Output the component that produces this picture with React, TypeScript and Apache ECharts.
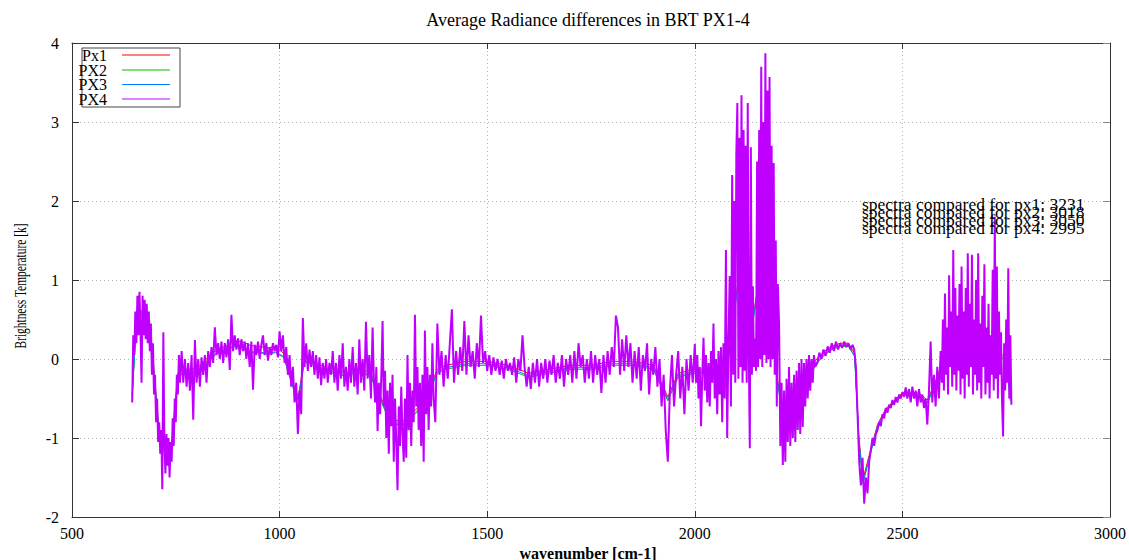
import React, { useEffect, useRef } from "react";
import * as echarts from "echarts";

const FONT = '"Liberation Serif", "DejaVu Serif", serif';
const TITLE = "Average Radiance differences in BRT PX1-4";
const X_NAME = "wavenumber [cm-1]";
const Y_NAME = "Brightness Temperature [k]";
const SERIES_NAMES = ["Px1", "PX2", "PX3", "PX4"];
const SERIES_COLORS = ["#ff0000", "#00c000", "#0080ff", "#c000ff"];
const SPECTRA_COUNTS = [3231, 3018, 3050, 2995];
const X_RANGE = [500, 3000];
const X_STEP = 500;
const Y_RANGE = [-2, 4];
const Y_STEP = 1;

// PX4 (dense spectrum) in segments: [start wavenumber, spacing, values]
const PX4_645_760 = [-0.55, 0.3, 0.05, 0.6, 0.2, 0.8, 0.3, 0.85, 0.35, -0.3, 0.8, 0.3, 0.75, 0.25, 0.7, 0.2, 0.6, 0.1, 0.45, -0.2, 0.2, -0.45, -0.2, -0.8, -0.5, -1.05, -0.8, -1.2, -0.9, -1.65, 0.34, -1.05, -1.45, -0.95, -1.35, -1.0, -1.5, -1.05, -1.3, -0.75, -1.1, -0.5, -0.8, -0.2, -0.45, 0.05, -0.3];
const PX4_764_1000 = [0.1, -0.3, 0.0, -0.35, -0.05, -0.4, 0.05, -0.77, 0.24, -0.3, 0.0, -0.35, 0.02, -0.2, 0.05, -0.3, 0.1, -0.1, 0.15, -0.05, 0.4, 0.05, 0.2, 0.0, 0.22, -0.05, 0.2, 0.02, 0.25, -0.14, 0.56, 0.1, 0.3, 0.12, 0.26, 0.05, 0.25, 0.1, 0.22, 0.0, 0.2, -0.1, 0.22, -0.39, 0.18, 0.05, 0.22, 0.0, 0.18, 0.3, 0.05, 0.2, -0.02, 0.15, 0.05, 0.2, 0.1, 0.18, 0.02, 0.35];
const PX4_1004_1224 = [0.1, 0.3, -0.05, 0.15, -0.2, 0.05, -0.35, -0.1, -0.55, -0.3, -0.95, -0.4, -0.7, 0.52, -0.1, 0.2, -0.15, 0.12, -0.1, 0.1, -0.2, 0.05, -0.25, 0.02, -0.33, -0.05, -0.25, 0.0, -0.3, -0.05, -0.2, 0.1, -0.3, -0.05, -0.4, 0.05, -0.25, 0.2, -0.35, -0.1, -0.4, 0.0, -0.3, 0.15, -0.35, -0.05, -0.45, 0.25, -0.3, 0.0, -0.4, 0.47, -0.25, 0.05, -0.5, 0.4];
const PX4_1227_1371 = [-0.25, -0.55, -0.1, -0.91, -0.3, -0.7, -0.2, 0.48, -0.6, -0.15, -1.0, -0.4, -1.2, -0.3, -0.85, -0.2, -1.3, -0.5, -1.05, -1.66, -0.6, -1.1, -0.35, -0.95, -1.3, -0.5, -1.25, 0.05, -0.9, -0.3, -1.1, -0.4, -0.8, 0.56, -0.6, -0.1, -0.9, -0.3, -1.1, -0.2, -1.3, 0.36, -0.7, -0.1, -0.9, -0.2, -0.6, 0.2, -0.5];
const PX4_1375_2000 = [-0.8, 0.45, -0.2, 0.1, -0.35, 0.05, -0.25, 0.2, 0.63, -0.3, 0.1, -0.2, 0.15, -0.15, 0.48, -0.2, 0.3, -0.1, 0.1, -0.25, 0.2, -0.1, 0.55, -0.05, 0.1, -0.15, 0.05, -0.2, 0.02, -0.15, 0.0, -0.2, -0.02, -0.25, 0.0, -0.15, -0.05, -0.2, 0.02, -0.3, 0.0, -0.15, 0.3, -0.1, -0.35, -0.1, -0.38, -0.05, -0.3, 0.0, -0.35, -0.05, -0.25, 0.0, -0.3, -0.02, -0.2, 0.05, -0.3, -0.05, -0.25, 0.05, -0.35, 0.0, -0.2, 0.05, -0.3, 0.1, -0.25, 0.2, -0.1, 0.05, -0.3, 0.0, -0.25, 0.1, -0.3, 0.05, -0.2, 0.0, -0.43, 0.05, -0.3, 0.1, -0.2, 0.15, -0.1, 0.55, 0.4, -0.2, 0.25, -0.15, 0.3, -0.1, 0.2, -0.3, 0.1, -0.25, 0.15, -0.4, 0.05, -0.15, 0.2, -0.45, 0.0, -0.2, 0.15, -0.35, 0.0, -0.6, -0.2, -0.9, -1.3, -0.4, 0.05, -0.6, -0.2, 0.1, -0.5, -0.1, -0.7, 0.0, -0.4, 0.05, -0.3, 0.19];
const PX4_2003_2090 = [-0.3, 0.05, -0.5, -0.1, -0.85, -0.2, 0.27, -0.4, 0.05, -0.55, -0.05, -0.6, 0.1, -0.3, 0.45, -0.5, 0.0, -0.7, 0.1, -0.45, 0.15, -0.8, 0.2, -0.5, 1.38, -1.0, 0.2, 1.05, -0.6, 2.33];
const PX4_2092_2200 = [-0.2, 2.0, -0.3, 2.6, 3.24, -0.25, 2.8, -0.1, 3.34, -0.3, 2.9, -0.15, 2.7, -0.3, 3.24, 0.1, -1.13, 2.68, -0.2, 0.92, -0.1, 0.26, -0.15, 2.5, -0.1, 2.9, 0.0, 3.7, -0.1, 3.0, 0.05, 3.87, -0.05, 3.4, 0.0, 3.57, -0.1, 2.7, 0.0, 2.48, -0.2, 1.5, -0.6, 0.95];
const PX4_2203_2290 = [0.45, -1.1, -0.3, -1.34, -0.4, -1.3, -0.25, -1.05, -0.1, -1.1, -0.3, -1.0, -0.2, -1.05, -0.15, -0.9, -0.05, -0.95, 0.0, -0.86, -0.05, -0.6, 0.0, -0.5, 0.05, -0.4, 0.0, -0.3, 0.05, -0.1];
const PX4_2295_2380 = [-0.05, 0.08, 0.0, 0.12, 0.04, 0.16, 0.08, 0.2, 0.1, 0.22, 0.12, 0.2, 0.14, 0.22, 0.15, 0.2, 0.12, 0.18];
const PX4_2384_2592 = [0.12, -0.1, -0.7, -1.3, -1.6, -1.25, -1.83, -1.5, -1.7, -1.3, -1.15, -1.0, -1.1, -0.95, -0.9, -0.8, -0.85, -0.7, -0.75, -0.62, -0.68, -0.58, -0.62, -0.52, -0.58, -0.48, -0.55, -0.45, -0.5, -0.42, -0.48, -0.36, -0.5, -0.38, -0.55, -0.35, -0.5, -0.4, -0.6, -0.38, -0.55, -0.45, -0.62, -0.5, -0.83, -0.4, 0.22, -0.55, -0.2, -0.6, -0.1, -0.5, 0.1];
const PX4_2595_2762 = [-0.3, 0.5, -0.4, 0.83, -0.2, 0.4, -0.45, 1.06, -0.1, 0.6, -0.35, 1.38, -0.2, 0.9, -0.4, 0.55, -0.15, 0.95, -0.45, 1.17, -0.25, 0.6, -0.5, 0.9, -0.2, 1.34, -0.35, 0.7, -0.1, 1.32, -0.45, 0.5, -0.2, 1.0, -0.4, 1.34, -0.3, 0.45, -0.5, 0.8, -0.1, 1.2, -0.45, 0.4, -0.3, 0.7, -0.5, 0.3, -0.2, 1.13, -0.4, 1.8, -0.25, 1.17, -0.5, 0.6, -0.2, 0.34, -0.55, -0.98, 0.2, -0.4, 0.5, -0.3, 1.15, -0.5, 0.3, -0.58];

const PX4_SEGMENTS: [number, number, number[]][] = [
  [645, 2.5, PX4_645_760],
  [764, 4, PX4_764_1000],
  [1004, 4, PX4_1004_1224],
  [1227, 3, PX4_1227_1371],
  [1375, 5, PX4_1375_2000],
  [2003, 3, PX4_2003_2090],
  [2092.5, 2.5, PX4_2092_2200],
  [2203, 3, PX4_2203_2290],
  [2295, 5, PX4_2295_2380],
  [2384, 4, PX4_2384_2592],
  [2595, 2.5, PX4_2595_2762],
];

// PX1-PX3 lie mostly beneath PX4; read on a coarser wavenumber grid
const COARSE_X = [645, 655, 665, 680, 695, 710, 725, 740, 755, 770, 790, 810, 830, 850, 870, 890, 910, 930, 950, 970, 990, 1010, 1030, 1045, 1060, 1080, 1100, 1120, 1140, 1160, 1180, 1200, 1220, 1240, 1260, 1280, 1300, 1320, 1340, 1360, 1380, 1400, 1450, 1500, 1550, 1600, 1650, 1700, 1750, 1800, 1850, 1900, 1935, 1960, 2000, 2040, 2080, 2110, 2140, 2170, 2200, 2215, 2240, 2265, 2290, 2310, 2330, 2350, 2370, 2385, 2395, 2405, 2420, 2440, 2460, 2480, 2500, 2520, 2540, 2560, 2580, 2600, 2630, 2660, 2690, 2720, 2750, 2760];
const PX1_Y = [-0.45, 0.5, 0.62, 0.46, 0.02, -0.93, -1.12, -1.08, -0.18, -0.13, -0.13, -0.08, 0.04, 0.12, 0.16, 0.23, 0.22, 0.17, 0.16, 0.14, 0.16, 0.07, -0.28, -0.48, 0.02, -0.03, -0.08, -0.13, -0.13, -0.18, -0.13, -0.13, -0.18, -0.43, -0.68, -0.78, -0.78, -0.68, -0.58, -0.38, -0.13, -0.08, -0.03, -0.03, -0.08, -0.18, -0.13, -0.08, -0.08, -0.03, -0.03, -0.08, -0.48, -0.18, -0.13, -0.13, 0.02, 1.22, 0.52, 1.52, -0.28, -0.78, -0.58, -0.33, -0.02, 0.09, 0.16, 0.2, 0.2, 0.07, -0.97, -1.52, -1.22, -0.83, -0.63, -0.53, -0.43, -0.43, -0.43, -0.52, -0.28, 0.02, 0.12, 0.12, 0.07, 0.12, 0.02, -0.47];
const PX2_Y = [-0.48, 0.46, 0.57, 0.42, -0.03, -0.98, -1.18, -1.13, -0.23, -0.18, -0.18, -0.13, -0.02, 0.07, 0.09, 0.16, 0.14, 0.08, 0.08, 0.06, 0.08, 0.02, -0.33, -0.53, -0.03, -0.08, -0.13, -0.18, -0.18, -0.23, -0.18, -0.18, -0.23, -0.48, -0.73, -0.83, -0.83, -0.73, -0.63, -0.43, -0.18, -0.13, -0.08, -0.08, -0.13, -0.23, -0.18, -0.13, -0.13, -0.08, -0.08, -0.13, -0.53, -0.23, -0.18, -0.18, -0.03, 1.17, 0.47, 1.47, -0.33, -0.83, -0.63, -0.38, -0.08, 0.04, 0.12, 0.16, 0.16, 0.03, -1.03, -1.58, -1.26, -0.86, -0.66, -0.56, -0.46, -0.46, -0.46, -0.56, -0.33, -0.03, 0.07, 0.07, 0.02, 0.07, -0.03, -0.53];
const PX3_Y = [-0.47, 0.48, 0.59, 0.44, -0.02, -0.97, -1.16, -1.11, -0.21, -0.16, -0.16, -0.11, 0.0, 0.08, 0.1, 0.17, 0.15, 0.09, 0.09, 0.07, 0.09, 0.03, -0.31, -0.51, -0.02, -0.06, -0.11, -0.16, -0.16, -0.21, -0.16, -0.16, -0.21, -0.46, -0.71, -0.81, -0.81, -0.71, -0.61, -0.41, -0.16, -0.11, -0.06, -0.06, -0.11, -0.21, -0.16, -0.11, -0.11, -0.06, -0.06, -0.11, -0.51, -0.21, -0.16, -0.16, -0.01, 1.19, 0.49, 1.49, -0.31, -0.81, -0.61, -0.36, -0.06, 0.05, 0.13, 0.17, 0.17, 0.04, -1.01, -1.56, -1.25, -0.85, -0.65, -0.55, -0.45, -0.45, -0.45, -0.55, -0.31, -0.01, 0.09, 0.09, 0.04, 0.09, -0.01, -0.51];

function fromSegments(segs: [number, number, number[]][]) {
  const out: number[][] = [];
  for (const [start, step, ys] of segs) {
    ys.forEach((y, i) => out.push([start + i * step, y]));
  }
  return out;
}
function zipXY(xs: number[], ys: number[]) {
  return xs.map((x, i) => [x, ys[i]]);
}

export default function App() {
  const ref = useRef<HTMLDivElement>(null);
  useEffect(() => {
    document.body.style.margin = "0";
    if (!ref.current) return;
    const chart = echarts.init(ref.current, null, { renderer: "svg" });
    const seriesData = [
      zipXY(COARSE_X, PX1_Y),
      zipXY(COARSE_X, PX2_Y),
      zipXY(COARSE_X, PX3_Y),
      fromSegments(PX4_SEGMENTS),
    ];
    const seriesWidths = [1, 1, 1, 2];
    const axisLineStyle = { color: "#333", width: 1 };
    const baseX = { type: "value", min: X_RANGE[0], max: X_RANGE[1], interval: X_STEP };
    const baseY = { type: "value", min: Y_RANGE[0], max: Y_RANGE[1], interval: Y_STEP };
    const labelFmt = (v: number) => String(v);
    const legendY = [55, 70, 84.5, 99];
    const centerText = (extra: any) => ({
      align: "center",
      verticalAlign: "middle",
      textAlign: "center",
      textVerticalAlign: "middle",
      fontFamily: FONT,
      fill: "#000",
      ...extra,
    });
    const graphic: any[] = [
      { type: "text", x: 588, y: 20, z: 100, style: centerText({ text: TITLE, fontSize: 18 }) },
      {
        type: "text",
        x: 588,
        y: 553,
        z: 100,
        style: centerText({ text: X_NAME, fontSize: 16, fontWeight: "bold" }),
      },
      {
        type: "text",
        x: 20,
        y: 286,
        rotation: Math.PI / 2,
        scaleX: 0.76,
        scaleY: 1.1,
        z: 100,
        style: centerText({ text: Y_NAME, fontSize: 15 }),
      },
      {
        type: "rect",
        z: 100,
        shape: { x: 82, y: 48, width: 98, height: 59 },
        style: { fill: "none", stroke: "#444", lineWidth: 1 },
      },
    ];
    SERIES_NAMES.forEach((name, i) => {
      graphic.push({
        type: "text",
        x: 107,
        y: legendY[i],
        z: 101,
        style: {
          text: name,
          align: "right",
          verticalAlign: "middle",
          textAlign: "right",
          textVerticalAlign: "middle",
          fontSize: 16,
          fontFamily: FONT,
          fill: "#000",
        },
      });
      graphic.push({
        type: "line",
        z: 101,
        shape: { x1: 122, y1: legendY[i], x2: 170, y2: legendY[i] },
        style: { stroke: SERIES_COLORS[i], lineWidth: 1 },
      });
      graphic.push({
        type: "text",
        x: 862,
        y: 204 + i * 8,
        z: 100,
        style: {
          text: `spectra compared for px${i + 1}: ${SPECTRA_COUNTS[i]}`,
          align: "left",
          verticalAlign: "middle",
          textAlign: "left",
          textVerticalAlign: "middle",
          fontSize: 17.5,
          fontFamily: FONT,
          fill: "#000",
        },
      });
    });

    chart.setOption({
      animation: false,
      backgroundColor: "#ffffff",
      grid: { left: 72, right: 19, top: 43, bottom: 43 },
      xAxis: [
        {
          ...baseX,
          position: "bottom",
          axisLine: { show: true, onZero: false, lineStyle: axisLineStyle },
          axisTick: { show: true, inside: true, length: 6, lineStyle: axisLineStyle },
          axisLabel: { color: "#000", fontSize: 16, fontFamily: FONT, margin: 8, formatter: labelFmt },
          splitLine: { show: true, lineStyle: { color: "#b0b0b0", width: 1, type: [1, 3] } },
        },
        {
          ...baseX,
          position: "top",
          axisLine: { show: true, onZero: false, lineStyle: axisLineStyle },
          axisTick: { show: true, inside: true, length: 6, lineStyle: axisLineStyle },
          axisLabel: { show: false },
          splitLine: { show: false },
        },
      ],
      yAxis: [
        {
          ...baseY,
          position: "left",
          axisLine: { show: true, onZero: false, lineStyle: axisLineStyle },
          axisTick: { show: true, inside: true, length: 7, lineStyle: axisLineStyle },
          axisLabel: { color: "#000", fontSize: 16, fontFamily: FONT, margin: 13, formatter: labelFmt },
          splitLine: { show: true, lineStyle: { color: "#b0b0b0", width: 1, type: [1, 3] } },
        },
        {
          ...baseY,
          position: "right",
          axisLine: { show: true, onZero: false, lineStyle: axisLineStyle },
          axisTick: { show: true, inside: true, length: 7, lineStyle: { color: "#888" } },
          axisLabel: { show: false },
          splitLine: { show: false },
        },
      ],
      series: SERIES_NAMES.map((name, i) => ({
        name,
        type: "line",
        xAxisIndex: 0,
        yAxisIndex: 0,
        data: seriesData[i],
        showSymbol: false,
        symbol: "none",
        silent: true,
        clip: true,
        lineStyle: { color: SERIES_COLORS[i], width: seriesWidths[i] },
        itemStyle: { color: SERIES_COLORS[i] },
        emphasis: { disabled: true },
        z: 2 + i,
      })),
      graphic,
    });
    return () => chart.dispose();
  }, []);
  return <div ref={ref} style={{ width: 1129, height: 560 }} />;
}
